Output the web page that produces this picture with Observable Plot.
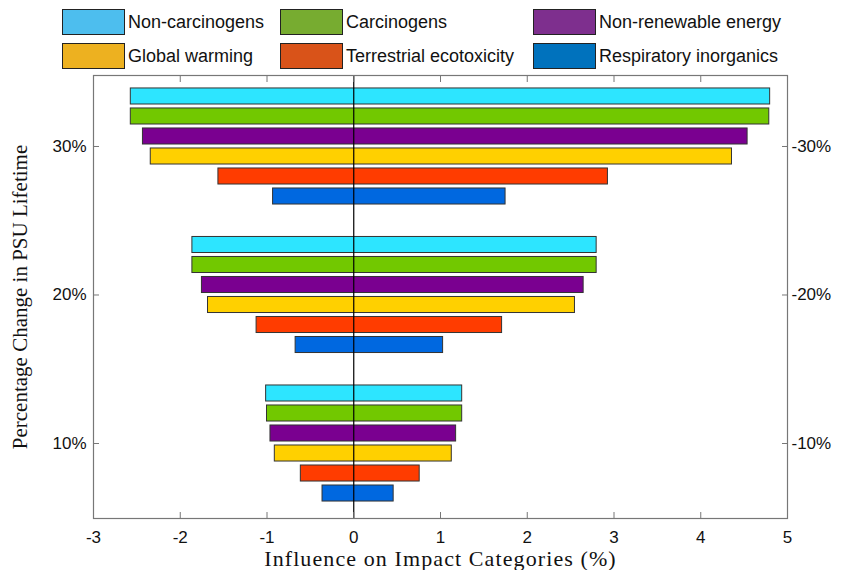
<!DOCTYPE html>
<html><head><meta charset="utf-8">
<script src="https://cdn.jsdelivr.net/npm/d3@7"></script>
<script src="https://cdn.jsdelivr.net/npm/@observablehq/plot@0.6"></script>
<style>
body{margin:0;background:#fff;width:842px;height:570px;overflow:hidden;font-family:"Liberation Sans",Arial,sans-serif;}
#legend{position:relative;height:70px;width:842px;}
.item{position:absolute;display:flex;align-items:center;font-size:18px;color:#111;white-space:nowrap;}
.sw{width:63px;height:26px;border:1.5px solid #222;margin-right:3px;box-sizing:border-box;}
</style></head><body>
<div id="legend"></div><div id="chart"></div>
<script>
const categories = ["Non-carcinogens","Carcinogens","Non-renewable energy","Global warming","Terrestrial ecotoxicity","Respiratory inorganics"];
const barColors = ["#2de5ff","#72c800","#7a0090","#ffd000","#ff3c00","#0068e0"];
const legendColors = ["#4dbeee","#77ac30","#7e2f8e","#edb120","#d95319","#0072bd"];
const groups = [30, 20, 10];
const neg30 = [-2.57,-2.57,-2.43,-2.34,-1.56,-0.93];
const pos30 = [4.80,4.79,4.54,4.36,2.93,1.75];
const neg20 = [-1.86,-1.86,-1.75,-1.68,-1.12,-0.67];
const pos20 = [2.80,2.80,2.65,2.55,1.71,1.03];
const neg10 = [-1.01,-1.00,-0.96,-0.91,-0.61,-0.36];
const pos10 = [1.25,1.25,1.18,1.13,0.76,0.46];
const xTicks = [-3,-2,-1,0,1,2,3,4,5];
const yTicks = [10,20,30];
const leftLabels = ["10%","20%","30%"];
const rightLabels = ["-10%","-20%","-30%"];
const xTitle = "Influence on Impact Categories (%)";
const yTitle = "Percentage Change in PSU Lifetime";

// legend: 3 columns x 2 rows
const legendPos = [[62,9],[280,9],[533,9],[62,43],[280,43],[533,43]];
const lg = document.getElementById("legend");
categories.forEach((c,k)=>{
  const d = document.createElement("div");
  d.className="item";
  d.style.left=legendPos[k][0]+"px"; d.style.top=legendPos[k][1]+"px";
  d.innerHTML = `<div class="sw" style="background:${legendColors[k]}"></div><span>${c}</span>`;
  lg.appendChild(d);
});

const negs = {30:neg30,20:neg20,10:neg10};
const poss = {30:pos30,20:pos20,10:pos10};
const step = 1.347, barH = 1.08;
const rows = [];
groups.forEach(g=>{
  categories.forEach((c,i)=>{
    const yc = g - (i-2.5)*step;
    rows.push({cat:c, i, x1:negs[g][i], x2:poss[g][i], y1:yc-barH/2, y2:yc+barH/2});
  });
});
const yDomain = [4.95, 34.78];

const chart = Plot.plot({
  width: 842, height: 500,
  marginTop: 5, marginBottom: 52, marginLeft: 93, marginRight: 55,
  style:{fontFamily:"Liberation Sans, Arial, sans-serif", fontSize:"17px", color:"#111", background:"#fff"},
  x:{domain:[-3,5]},
  y:{domain:yDomain},
  color:{domain:categories, range:barColors},
  marks:[
    Plot.rect(rows,{x1:"x1",x2:"x2",y1:"y1",y2:"y2",fill:"cat",stroke:"#333",strokeWidth:1}),
    Plot.ruleX([0],{stroke:"#000",strokeWidth:1.2}),
    Plot.frame({stroke:"#777",strokeWidth:1.2}),
    Plot.axisX(xTicks,{anchor:"bottom",tickSize:-6,tickPadding:18,stroke:"#777",fontSize:17,tickFormat:(d)=>String(d),label:null}),
    Plot.axisX(xTicks,{anchor:"top",tickSize:-6,tickFormat:()=>"",stroke:"#777",label:null}),
    Plot.axisY(yTicks,{anchor:"left",tickSize:-6,tickPadding:13,stroke:"#777",fontSize:17,tickFormat:(d)=>leftLabels[yTicks.indexOf(d)],label:null}),
    Plot.axisY(yTicks,{anchor:"right",tickSize:-6,tickPadding:10,stroke:"#777",fontSize:17,tickFormat:(d)=>rightLabels[yTicks.indexOf(d)],label:null}),
    Plot.text([xTitle],{frameAnchor:"bottom",dy:47,textAnchor:"middle",fontFamily:"Liberation Serif, Times New Roman, serif",fontSize:22,fill:"#111"}),
    Plot.text([yTitle],{frameAnchor:"left",dx:-73,textAnchor:"middle",rotate:-90,fontFamily:"Liberation Serif, Times New Roman, serif",fontSize:21,fill:"#111"})
  ]
});
document.getElementById("chart").appendChild(chart);
d3.select(chart).selectAll("text").filter(function(){return this.textContent===xTitle;}).style("letter-spacing","1.1px");
</script>
</body></html>
